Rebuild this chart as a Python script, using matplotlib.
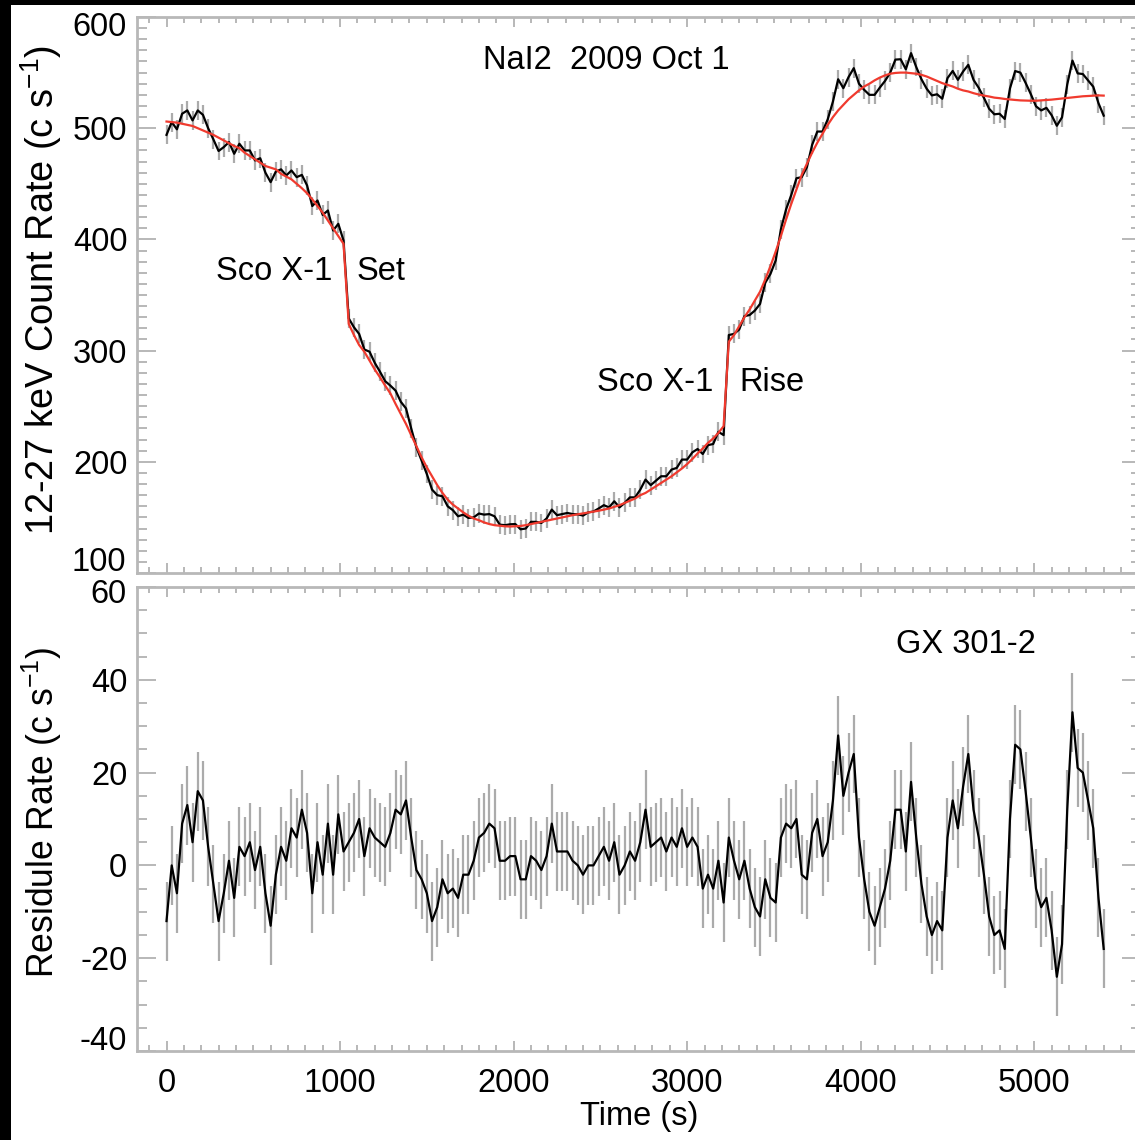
import matplotlib
matplotlib.use('Agg')
import matplotlib.pyplot as plt
from matplotlib.patches import Rectangle
from matplotlib.ticker import MultipleLocator, FuncFormatter
import numpy as np

plt.rcParams['font.family'] = ['Liberation Sans', 'DejaVu Sans']
plt.rcParams['mathtext.fontset'] = 'custom'
plt.rcParams['mathtext.rm'] = 'Liberation Sans'
plt.rcParams['mathtext.default'] = 'regular'
plt.rcParams['axes.unicode_minus'] = False

# ---- data, 30 s bins starting at t = 0 ----
bin_width = 30.0

# red model curve, 12-27 keV (c/s)
model_rate = [
    506, 505.5, 505, 504, 503, 502, 500, 498, 496, 494,
    491.5, 489, 486.5, 484, 482, 478, 475, 472, 469, 466,
    464.5, 463, 459, 456.5, 454, 450, 446, 441.5, 436, 430,
    424, 417, 410, 403, 396, 324, 314, 305, 299, 291,
    283, 276, 268.5, 261.5, 252, 243, 234, 224, 214, 204,
    195, 187, 179, 172, 166, 161.5, 158, 154.5, 151.5, 149,
    147.5, 145.5, 144, 143, 142.5, 142, 141.8, 142, 142.3, 143,
    144, 145, 146, 147, 148, 149, 150, 151, 152, 152.8,
    153.6, 154.5, 155.3, 156, 157, 158, 159.5, 161, 163, 165,
    167, 170, 172, 175, 178, 181, 184, 187, 190.5, 194,
    198, 202.5, 207.5, 212, 217, 221, 226, 232, 308, 314,
    322, 330, 337, 345, 353, 364, 376, 389, 403, 418,
    432, 445, 458, 468, 478, 487, 495, 503, 510, 516,
    521, 526, 530, 534, 537.5, 540, 543, 545.5, 547.5, 549,
    549.7, 550, 550, 549.5, 549, 548, 546.5, 544.5, 542.5, 540.5,
    539, 537.5, 535.5, 534, 533, 531.5, 530.3, 529.3, 528.5, 527.5,
    527, 526.3, 525.8, 525.4, 525, 524.8, 524.7, 524.7, 525, 525.3,
    525.7, 526.2, 526.8, 527.3, 527.8, 528.3, 528.7, 529, 529.3, 529.5,
    529.3,
]

# residual (data - model), c/s
resid_rate = [
    -12, 0, -6, 9, 13, 5, 16, 14, 4, -4,
    -12, -6, 1, -7, 4, 2, 5, -1, 4, -6,
    -13, -2, 4, 1, 8, 6, 12, 7, -6, 5,
    -2, 9, -2, 11, 3, 5, 7, 10, 2, 8,
    6, 5, 4, 7, 12, 11, 14, 6, -1, -3,
    -6, -12, -9, -3, -6, -5, -7, -2, -2, 1,
    6, 7, 9, 8, 1, 1, 2, 2, -3, -3,
    2, 1, -1, 2, 9, 3, 3, 3, 1, 0,
    -2, 0, 0, 2, 4, 1, 5, -2, 0, 3,
    1, 5, 12, 4, 5, 6, 3, 6, 4, 8,
    4, 6, 4, -5, -2, -5, 1, -8, 6, 1,
    -3, 1, -5, -9, -11, -3, -7, -8, 6, 9,
    8, 10, -2, -3, 7, 10, 2, 5, 14, 28,
    15, 20, 24, 6, -3, -10, -13, -9, -5, 1,
    12, 12, 3, 18, 6, -4, -11, -15, -12, -14,
    6, 14, 8, 17, 24, 12, 6, -2, -11, -15,
    -14, -18, 10, 26, 25, 16, 6, -5, -9, -7,
    -14, -24, -17, 12, 33, 21, 20, 14, 8, -7,
    -18,
]

rate_err = 8.5  # 1-sigma error per bin (c/s)

model = np.array(model_rate)
resid = np.array(resid_rate)
time_s = np.arange(len(resid)) * bin_width
rate = model + resid

# ---- figure ----
W, H = 1135, 1140
fig = plt.figure(figsize=(W / 100, H / 100), dpi=100)
fig.patch.set_facecolor('black')
fig.add_artist(Rectangle((11 / W, 0), 1, 1 - 5 / H, transform=fig.transFigure,
                         facecolor='white', edgecolor='none', zorder=-10))

left, right = 137, 1141
ax1 = fig.add_axes([left / W, 1 - 573 / H, (right - left) / W, 556 / H])
ax2 = fig.add_axes([left / W, 1 - 1051 / H, (right - left) / W, 464 / H])

spine_col = '#b8b8b8'
fs = 23.5
for ax in (ax1, ax2):
    ax.set_xlim(-170, 5615)
    ax.xaxis.set_major_locator(MultipleLocator(1000))
    ax.xaxis.set_minor_locator(MultipleLocator(100))
    for s in ax.spines.values():
        s.set_color(spine_col)
        s.set_linewidth(2.0)
    ax.tick_params(which='both', direction='in', top=True, right=True,
                   color=spine_col, width=1.4, labelsize=fs, labelcolor='black')
    ax.tick_params(axis='x', which='major', length=7.5, pad=12)
    ax.tick_params(axis='x', which='minor', length=4)
    ax.tick_params(axis='y', which='major', length=14, pad=7)
    ax.tick_params(axis='y', which='minor', length=7)


def inner_labels(ax, lo, hi, lo_pos, hi_pos):
    # the end labels of each y axis sit a little inside the frame
    ax.yaxis.set_major_formatter(FuncFormatter(
        lambda v, p: '' if abs(v - lo) < 1e-6 or abs(v - hi) < 1e-6 else '%d' % v))
    tr = ax.get_yaxis_transform()
    ax.text(-0.0105, lo_pos, '%d' % lo, transform=tr, ha='right', va='center', fontsize=fs)
    ax.text(-0.0105, hi_pos, '%d' % hi, transform=tr, ha='right', va='center', fontsize=fs)


ebar = dict(fmt='none', ecolor='#ababab', elinewidth=1.6)

# top panel
ax1.errorbar(time_s, rate, yerr=rate_err, **ebar)
ax1.plot(time_s, rate, color='black', lw=1.6)
ax1.plot(time_s, model, color='#f03a2e', lw=1.6)
ax1.set_ylim(100, 600)
ax1.yaxis.set_major_locator(MultipleLocator(100))
ax1.yaxis.set_minor_locator(MultipleLocator(10))
ax1.tick_params(axis='x', labelbottom=False)
inner_labels(ax1, 100, 600, 109, 591)
ax1.set_ylabel('12-27 keV Count Rate (c s$^{-1}$)', fontsize=27.3)
ax1.yaxis.set_label_coords(-0.073, 0.51)

txt = dict(fontsize=fs, va='center')
ax1.text(1821, 561, 'NaI2  2009 Oct 1', ha='left', **txt)
ax1.text(957, 371, 'Sco X-1', ha='right', **txt)
ax1.text(1095, 371, 'Set', ha='left', **txt)
ax1.text(3153, 271, 'Sco X-1', ha='right', **txt)
ax1.text(3303, 271, 'Rise', ha='left', **txt)

# bottom panel
ax2.errorbar(time_s, resid, yerr=rate_err, **ebar)
ax2.plot(time_s, resid, color='black', lw=1.6)
ax2.set_ylim(-40, 60)
ax2.yaxis.set_major_locator(MultipleLocator(20))
ax2.yaxis.set_minor_locator(MultipleLocator(5))
inner_labels(ax2, -40, 60, -38.0, 58.4)
ax2.set_ylabel('Residule Rate (c s$^{-1}$)', fontsize=25.6)
ax2.yaxis.set_label_coords(-0.073, 0.515)
ax2.set_xlabel('Time (s)', fontsize=fs, labelpad=2)
ax2.text(4202, 47.7, 'GX 301-2', ha='left', **txt)

plt.savefig('out.png', dpi=100, facecolor=fig.get_facecolor())
plt.close()
